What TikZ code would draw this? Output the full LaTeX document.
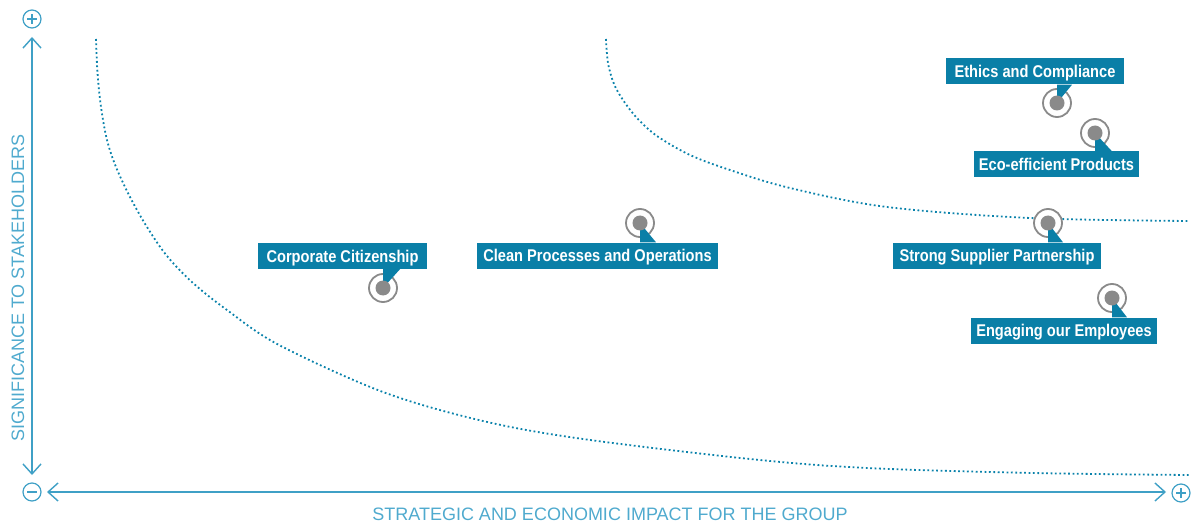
\documentclass[tikz,border=0pt]{standalone}
\usepackage{fontspec}
\setmainfont{Liberation Sans}
\newfontfamily\tagfont[FakeStretch=0.86]{Liberation Sans Bold}
\usetikzlibrary{arrows.meta}
\definecolor{axisblue}{HTML}{3FA0C6}
\definecolor{labelblue}{HTML}{4FAACE}
\definecolor{curveblue}{HTML}{0A82AB}
\definecolor{tagblue}{HTML}{0A7FA7}
\definecolor{markgray}{HTML}{8A8A8A}

\begin{document}
\begin{tikzpicture}[x=1pt,y=-1pt,
  axis/.style={draw=axisblue, line width=1.4pt},
  barb/.tip={Straight Barb[length=10pt,width=18pt,line width=1.4pt]},
  sign/.style={circle, draw=axisblue, line width=1.2pt, minimum size=18pt, inner sep=0pt},
  signbar/.style={draw=axisblue, line width=1.2pt},
  axislabel/.style={text=labelblue, font=\fontsize{18}{20}\selectfont, inner sep=0pt},
  trend/.style={draw=curveblue, line width=1.8pt, dash pattern=on 1.8pt off 2.6pt},
  ring/.style={circle, draw=markgray, line width=1.8pt, fill=white, minimum size=28pt, inner sep=0pt},
  dot/.style={circle, fill=markgray, minimum size=15pt, inner sep=0pt},
  tag/.style={fill=tagblue, text=white, font=\tagfont\fontsize{17}{19}\selectfont,
              text height=12pt, text depth=0pt, minimum height=26pt, inner sep=0pt},
  tail/.style={fill=tagblue},
]
\useasboundingbox (0,0) rectangle (1195,524);

% materiality thresholds
\draw[trend] plot[smooth, tension=0.55] coordinates {
  (96,39) (97.5,73) (101,107) (107,140) (116,167) (130,197) (147,227) (167,256)
  (193,283) (227,310) (279,345) (383,392) (483,421) (583,439) (750,459)
  (867,468) (1033,473) (1189,475)};
\draw[trend] plot[smooth, tension=0.55] coordinates {
  (606,39) (608,63) (614,84) (623,100) (637,118) (657,136) (690,155) (730,170)
  (790,188) (887,207) (1030,218) (1189,221)};

% axes
\coordinate (ytop) at (32,37);
\coordinate (ybot) at (32,475);
\coordinate (xleft) at (47,492);
\coordinate (xright) at (1166,492);
\draw[axis, barb-barb] (ybot) -- (ytop);
\draw[axis, barb-barb] (xleft) -- (xright);

\node[sign] (yplus) at (32,19) {};
\draw[signbar] ([xshift=-5pt]yplus.center) -- ([xshift=5pt]yplus.center)
               ([yshift=-5pt]yplus.center) -- ([yshift=5pt]yplus.center);
\node[sign] (origin) at (32,492) {};
\draw[signbar] ([xshift=-5pt]origin.center) -- ([xshift=5pt]origin.center);
\node[sign] (xplus) at (1181,493) {};
\draw[signbar] ([xshift=-5pt]xplus.center) -- ([xshift=5pt]xplus.center)
               ([yshift=-5pt]xplus.center) -- ([yshift=5pt]xplus.center);

\node[axislabel, rotate=90] (ylab) at (18,288) {SIGNIFICANCE TO STAKEHOLDERS};
\node[axislabel] (xlab) at (610,514) {STRATEGIC AND ECONOMIC IMPACT FOR THE GROUP};

% topic markers
\node[ring] (mcc) at (383,288) {};
\node[ring] (mcp) at (640,223) {};
\node[ring] (mec) at (1057,103) {};
\node[ring] (mep) at (1095,133) {};
\node[ring] (mss) at (1048,223) {};
\node[ring] (mee) at (1112,298) {};

% topic labels
\node[tag, minimum width=169pt] (tcc) at (342.5,256) {Corporate Citizenship};
\node[tag, minimum width=241pt] (tcp) at (597.5,255.5) {Clean Processes and Operations};
\node[tag, minimum width=178pt] (tec) at (1035,71.5) {Ethics and Compliance};
\node[tag, minimum width=165pt] (tep) at (1056.5,164.5) {Eco-efficient Products};
\node[tag, minimum width=208pt] (tss) at (997,255.5) {Strong Supplier Partnership};
\node[tag, minimum width=186pt] (tee) at (1064,330.5) {Engaging our Employees};

% label pointers
\fill[tail] (mcc.center) -- (mcc.center |- tcc.south) -- ++(17,0) -- cycle;
\fill[tail] (mec.center) -- (mec.center |- tec.south) -- ++(15,0) -- cycle;
\fill[tail] (mcp.center) -- (mcp.center |- tcp.north) -- ++(16,0) -- cycle;
\fill[tail] (mep.center) -- (mep.center |- tep.north) -- ++(17,0) -- cycle;
\fill[tail] (mss.center) -- (mss.center |- tss.north) -- ++(15,0) -- cycle;
\fill[tail] (mee.center) -- (mee.center |- tee.north) -- ++(15,0) -- cycle;

% marker cores
\foreach \m in {mcc,mcp,mec,mep,mss,mee}
  \node[dot] (\m-core) at (\m.center) {};
\end{tikzpicture}
\end{document}
